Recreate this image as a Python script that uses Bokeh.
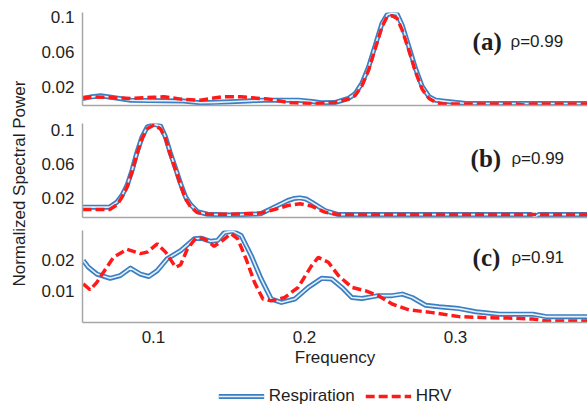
import numpy as np
from bokeh.plotting import figure
from bokeh.layouts import row, column
from bokeh.models import Range1d, FixedTicker, Label, Legend, LegendItem
from bokeh.embed import file_html
from bokeh.resources import INLINE

# ---------------- data ----------------
a_resp_f = [0.053, 0.058, 0.065, 0.072, 0.085, 0.097, 0.107, 0.120, 0.131, 0.141,
            0.151, 0.162, 0.173, 0.185, 0.196, 0.205, 0.211, 0.220, 0.229, 0.2336,
            0.238, 0.2425, 0.2469, 0.2513, 0.2547, 0.258, 0.2613, 0.2647, 0.2691, 0.2735,
            0.278, 0.2825, 0.2869, 0.296, 0.307, 0.33, 0.36, 0.39]
a_resp_v = [0.0074, 0.0090, 0.0105, 0.0088, 0.0055, 0.0050, 0.0048, 0.0045, 0.0025, 0.0030,
            0.0037, 0.0045, 0.0055, 0.0055, 0.0055, 0.0040, 0.0025, 0.0028, 0.0074, 0.0130,
            0.0246, 0.0437, 0.0684, 0.0931, 0.1030, 0.1050, 0.1040, 0.0912, 0.0665, 0.0417,
            0.0208, 0.0094, 0.0055, 0.0037, 0.0017, 0.0017, 0.0017, 0.0017]
a_hrv_f = [0.053, 0.060, 0.070, 0.085, 0.100, 0.107, 0.118, 0.131, 0.145, 0.158,
           0.176, 0.191, 0.207, 0.220, 0.229, 0.2336, 0.238, 0.2425, 0.2469, 0.2513,
           0.2547, 0.258, 0.2613, 0.2647, 0.2691, 0.2735, 0.278, 0.2825, 0.2869, 0.292,
           0.34, 0.345, 0.35, 0.39]
a_hrv_v = [0.0083, 0.0093, 0.0085, 0.0074, 0.0088, 0.0093, 0.0067, 0.0055, 0.0093, 0.0093,
           0.0067, 0.0025, 0.0017, 0.0028, 0.0067, 0.0110, 0.0220, 0.0400, 0.0650, 0.0893,
           0.1010, 0.1020, 0.0989, 0.0855, 0.0627, 0.0379, 0.0177, 0.0074, 0.0028, 0.0010,
           0.0010, 0.0000, 0.0010, 0.0010]

b_resp_f = [0.053, 0.071, 0.0758, 0.0791, 0.0825, 0.0858, 0.0891, 0.0924, 0.0958, 0.1002,
            0.1047, 0.108, 0.111, 0.1147, 0.118, 0.1213, 0.1247, 0.1291, 0.1358, 0.151,
            0.171, 0.180, 0.189, 0.193, 0.197, 0.201, 0.2047, 0.2135, 0.2225, 0.25,
            0.35, 0.3525, 0.355, 0.39]
b_resp_v = [0.0094, 0.0094, 0.0153, 0.0230, 0.0349, 0.0525, 0.0740, 0.0918, 0.1035, 0.1070,
            0.1047, 0.0918, 0.0740, 0.0545, 0.0368, 0.0212, 0.0121, 0.0042, 0.0010, 0.0000,
            0.0015, 0.0094, 0.0172, 0.0195, 0.0203, 0.0190, 0.0153, 0.0054, 0.0006, 0.0006,
            0.0006, -0.0020, 0.0006, 0.0006]
b_hrv_f = [0.053, 0.071, 0.0758, 0.0791, 0.0825, 0.0858, 0.0891, 0.0924, 0.0958, 0.1002,
           0.1047, 0.108, 0.111, 0.1147, 0.118, 0.1213, 0.1247, 0.1291, 0.1358, 0.151,
           0.171, 0.180, 0.189, 0.197, 0.2047, 0.2135, 0.2225, 0.39]
b_hrv_v = [0.0066, 0.0066, 0.0120, 0.0210, 0.0330, 0.0510, 0.0720, 0.0900, 0.1015, 0.1060,
           0.1015, 0.0900, 0.0720, 0.0530, 0.0349, 0.0190, 0.0094, 0.0030, 0.0012, 0.0010,
           0.0024, 0.0066, 0.0113, 0.0133, 0.0106, 0.0035, 0.0008, 0.0008]

c_resp_f = [0.0535, 0.0569, 0.0625, 0.0713, 0.078, 0.0847, 0.0913, 0.0969, 0.1025, 0.109,
            0.118, 0.127, 0.1313, 0.138, 0.1425, 0.1469, 0.1525, 0.158, 0.1647, 0.1713,
            0.178, 0.1847, 0.1935, 0.2025, 0.2113, 0.218, 0.2247, 0.2313, 0.238, 0.249,
            0.258, 0.2647, 0.2713, 0.2802, 0.289, 0.3025, 0.3135, 0.329, 0.3513, 0.3602, 0.39]
c_resp_v = [0.0198, 0.0176, 0.0154, 0.0140, 0.0149, 0.0173, 0.0154, 0.0146, 0.0165, 0.0203,
            0.0230, 0.0268, 0.0270, 0.0260, 0.0263, 0.0288, 0.0293, 0.0279, 0.0214, 0.0138,
            0.0073, 0.0062, 0.0073, 0.0111, 0.0140, 0.0138, 0.0111, 0.0078, 0.0075, 0.0084,
            0.0084, 0.0089, 0.0078, 0.0053, 0.0048, 0.0042, 0.0032, 0.0024, 0.0024, 0.0016, 0.0016]
c_hrv_f = [0.0535, 0.058, 0.0625, 0.0669, 0.0735, 0.0825, 0.0913, 0.0958, 0.1025, 0.108,
           0.1147, 0.118, 0.1225, 0.128, 0.1335, 0.1402, 0.1458, 0.1513, 0.1558, 0.1613,
           0.1669, 0.1725, 0.178, 0.1869, 0.1958, 0.2047, 0.2091, 0.2158, 0.2225, 0.2313,
           0.2402, 0.249, 0.258, 0.2691, 0.2847, 0.3025, 0.318, 0.338, 0.3513, 0.3602, 0.39]
c_hrv_v = [0.0122, 0.0103, 0.0127, 0.0160, 0.0208, 0.0234, 0.0220, 0.0225, 0.0252, 0.0225,
           0.0176, 0.0184, 0.0236, 0.0270, 0.0269, 0.0244, 0.0263, 0.0285, 0.0268, 0.0203,
           0.0127, 0.0073, 0.0067, 0.0078, 0.0111, 0.0181, 0.0208, 0.0192, 0.0149, 0.0111,
           0.0100, 0.0084, 0.0057, 0.0038, 0.0029, 0.0016, 0.0013, 0.0011, 0.0008, 0.0002, 0.0002]

panel_tags = ["(a)", "(b)", "(c)"]
rho_values = ["0.99", "0.99", "0.91"]
yticks_ab = [0.02, 0.06, 0.1]
ylabels_ab = ["0.02", "0.06", "0.1"]
yticks_c = [0.01, 0.02]
ylabels_c = ["0.01", "0.02"]
xticks = [0.1, 0.2, 0.3]
xlabels = ["0.1", "0.2", "0.3"]
series_names = ["Respiration", "HRV"]

# ---------------- style ----------------
BLUE = "#3a7fc1"
INNER = "#e6f0fa"
RED = "#ff1a1a"
AXIS = "#a6a6a6"
TEXT = "#1e1e1e"
SANS = "Liberation Sans"
SERIF = "Liberation Serif"
XR = (0.053, 0.3874)
PW = 549


def make_panel(height, top, bottom, yr, yt, yl, show_x):
    p = figure(width=PW, height=height, x_range=Range1d(*XR), y_range=Range1d(*yr),
               output_backend="svg", toolbar_location=None,
               min_border_left=44, min_border_right=0,
               min_border_top=top, min_border_bottom=bottom)
    p.outline_line_color = None
    p.grid.visible = False
    ya = p.yaxis[0]
    ya.ticker = FixedTicker(ticks=yt)
    ya.major_label_overrides = {t: l for t, l in zip(yt, yl)}
    ya.major_tick_line_color = None
    ya.minor_tick_line_color = None
    ya.major_tick_out = 0
    ya.major_tick_in = 0
    ya.major_label_standoff = 8
    ya.axis_line_color = AXIS
    ya.axis_line_width = 1.5
    ya.major_label_text_font = SANS
    ya.major_label_text_font_size = "17px"
    ya.major_label_text_color = TEXT
    xa = p.xaxis[0]
    xa.axis_line_color = AXIS
    xa.axis_line_width = 1.5
    xa.major_tick_line_color = None
    xa.minor_tick_line_color = None
    xa.major_tick_out = 0
    xa.major_tick_in = 0
    if show_x:
        xa.ticker = FixedTicker(ticks=xticks)
        xa.major_label_overrides = {t: l for t, l in zip(xticks, xlabels)}
        xa.major_label_standoff = 8
        xa.major_label_text_font = SANS
        xa.major_label_text_font_size = "17px"
        xa.major_label_text_color = TEXT
        xa.axis_label = "Frequency"
        xa.axis_label_standoff = 2
        xa.axis_label_text_font = SANS
        xa.axis_label_text_font_size = "17px"
        xa.axis_label_text_font_style = "normal"
        xa.axis_label_text_color = TEXT
    else:
        xa.ticker = FixedTicker(ticks=[])
        xa.major_label_standoff = 0
    return p


def draw(p, rf, rv, hf, hv, visible=True):
    b1 = p.line(rf, rv, line_color=BLUE, line_width=5, line_join="round", visible=visible)
    b2 = p.line(rf, rv, line_color=INNER, line_width=1.6, line_join="round", visible=visible)
    r1 = p.line(hf, hv, line_color=RED, line_width=3.5, line_dash="9 4", visible=visible)
    return b1, b2, r1


def tag(p, i, x_tag, x_rho, y):
    p.add_layout(Label(x=x_tag, y=y, text=panel_tags[i], text_font=SERIF,
                       text_font_style="bold", text_font_size="25px",
                       text_color=TEXT, text_align="left", text_baseline="middle"))
    p.add_layout(Label(x=x_rho, y=y, text="\u03c1=" + rho_values[i], text_font=SANS,
                       text_font_size="17px", text_color=TEXT,
                       text_align="left", text_baseline="middle"))


fa = make_panel(113, 12, 8, (-0.0006, 0.1057), yticks_ab, ylabels_ab, False)
draw(fa, a_resp_f, a_resp_v, a_hrv_f, a_hrv_v)
tag(fa, 0, 0.3113, 0.3364, 0.0726)

fb = make_panel(109, 10, 5, (-0.0028, 0.1078), yticks_ab, ylabels_ab, False)
draw(fb, b_resp_f, b_resp_v, b_hrv_f, b_hrv_v)
tag(fb, 1, 0.3100, 0.3370, 0.0668)

fc = make_panel(153, 8, 53, (-0.0003, 0.0295), yticks_c, ylabels_c, True)
draw(fc, c_resp_f, c_resp_v, c_hrv_f, c_hrv_v)
tag(fc, 2, 0.3113, 0.3370, 0.0208)

# legend strip below the bottom panel; its sample renderers are hidden copies
lg = figure(width=PW, height=31, x_range=Range1d(*XR), y_range=Range1d(-0.0003, 0.0295),
            output_backend="svg", toolbar_location=None,
            min_border_left=44, min_border_right=0, min_border_top=0, min_border_bottom=0)
lg.axis.visible = False
lg.grid.visible = False
lg.outline_line_color = None
s1, s2, s3 = draw(lg, c_resp_f, c_resp_v, c_hrv_f, c_hrv_v, visible=False)
legend = Legend(items=[LegendItem(label=series_names[0], renderers=[s1, s2]),
                       LegendItem(label=series_names[1], renderers=[s3])],
                location="bottom_center", orientation="horizontal",
                glyph_width=46, glyph_height=20, label_standoff=5, spacing=10,
                padding=0, margin=0, border_line_color=None, background_fill_alpha=0,
                label_text_font=SANS, label_text_font_size="17px", label_text_color=TEXT,
                click_policy="none")
lg.add_layout(legend)

lf = figure(width=38, height=406, x_range=Range1d(0, 1), y_range=Range1d(0, 1),
            output_backend="svg", toolbar_location=None, min_border=0)
lf.axis.visible = False
lf.grid.visible = False
lf.outline_line_color = None
lf.add_layout(Label(x=0.5, y=0.549, text="Normalized Spectral Power", angle=np.pi / 2,
                    text_font=SANS, text_font_size="17px", text_color=TEXT,
                    text_align="center", text_baseline="middle"))

layout = row(lf, column(fa, fb, fc, lg))
open("out.html", "w").write(file_html(layout, INLINE))
